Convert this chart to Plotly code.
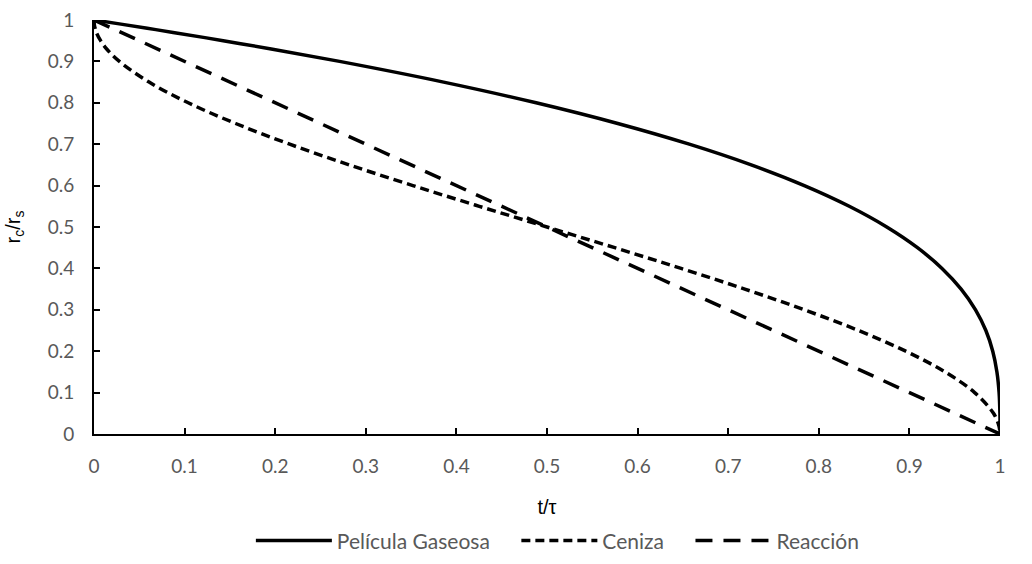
import plotly.graph_objects as go

# Dimensionless core radius r_c/r_s shared by the curved series
radius = [1.0, 0.99, 0.98, 0.97, 0.95, 0.93, 0.9, 0.85, 0.8, 0.75, 0.7, 0.65, 0.6,
          0.55, 0.5, 0.45, 0.4, 0.35, 0.3, 0.25, 0.2, 0.15, 0.1, 0.05, 0.02, 0.0]

# Time fraction t/tau for control by the gas film
time_gas_film = [0.0, 0.0297, 0.0588, 0.0873, 0.1426, 0.1956, 0.271, 0.3859, 0.488,
                 0.5781, 0.657, 0.7254, 0.784, 0.8336, 0.875, 0.9089, 0.936, 0.9571,
                 0.973, 0.9844, 0.992, 0.9966, 0.999, 0.9999, 1.0, 1.0]

# Time fraction t/tau for control by diffusion through the ash layer
time_ash = [0.0, 0.0003, 0.0012, 0.0026, 0.0073, 0.014, 0.028, 0.0608, 0.104,
            0.1563, 0.216, 0.2818, 0.352, 0.4253, 0.5, 0.5748, 0.648, 0.7183,
            0.784, 0.8438, 0.896, 0.9393, 0.972, 0.9928, 0.9988, 1.0]

# Chemical reaction control: straight line
time_reaction = [0.0, 1.0]
radius_reaction = [1.0, 0.0]

tick_vals = [0, 0.1, 0.2, 0.3, 0.4, 0.5, 0.6, 0.7, 0.8, 0.9, 1]
tick_text = ["0", "0.1", "0.2", "0.3", "0.4", "0.5", "0.6", "0.7", "0.8", "0.9", "1"]

# Non-breaking spaces widen the gap between legend entries
pad = "\u00a0" * 4

fig = go.Figure()
fig.add_trace(go.Scatter(x=time_gas_film, y=radius, mode="lines", name="Película Gaseosa" + pad,
                         line=dict(color="black", width=3.5), line_shape="spline"))
fig.add_trace(go.Scatter(x=time_ash, y=radius, mode="lines", name="Ceniza" + pad,
                         line=dict(color="black", width=3.5, dash="9px,5px"), line_shape="spline"))
fig.add_trace(go.Scatter(x=time_reaction, y=radius_reaction, mode="lines", name="Reacción",
                         line=dict(color="black", width=3.5, dash="17px,11px")))

tick_font = dict(family="Lato, Noto Sans, sans-serif", size=19, color="#595959")
title_font = dict(family="Liberation Sans, Arial", size=20, color="black")
axis_common = dict(
    range=[0, 1], tickvals=tick_vals, ticktext=tick_text, tickfont=tick_font,
    showgrid=False, zeroline=False, showline=True, linecolor="black", linewidth=2,
    ticks="inside", ticklen=6, tickwidth=1.5, tickcolor="black",
    ticklabelstandoff=14, automargin=False,
)

fig.update_layout(
    width=1032, height=564,
    margin=dict(l=94, r=32, t=20, b=130, autoexpand=False),
    plot_bgcolor="white", paper_bgcolor="white",
    xaxis=dict(**axis_common, title=dict(text="t/τ", standoff=24, font=title_font)),
    yaxis=dict(**axis_common,
               title=dict(text="r<sub>c</sub>/r<sub>s</sub>", standoff=22, font=title_font)),
    legend=dict(orientation="h", x=0.512, xanchor="center", y=-0.258, yanchor="middle",
                font=dict(family="Lato, Noto Sans, sans-serif", size=21, color="#595959"),
                itemwidth=76, bgcolor="rgba(0,0,0,0)"),
    showlegend=True,
)

fig.write_html("out.html")
